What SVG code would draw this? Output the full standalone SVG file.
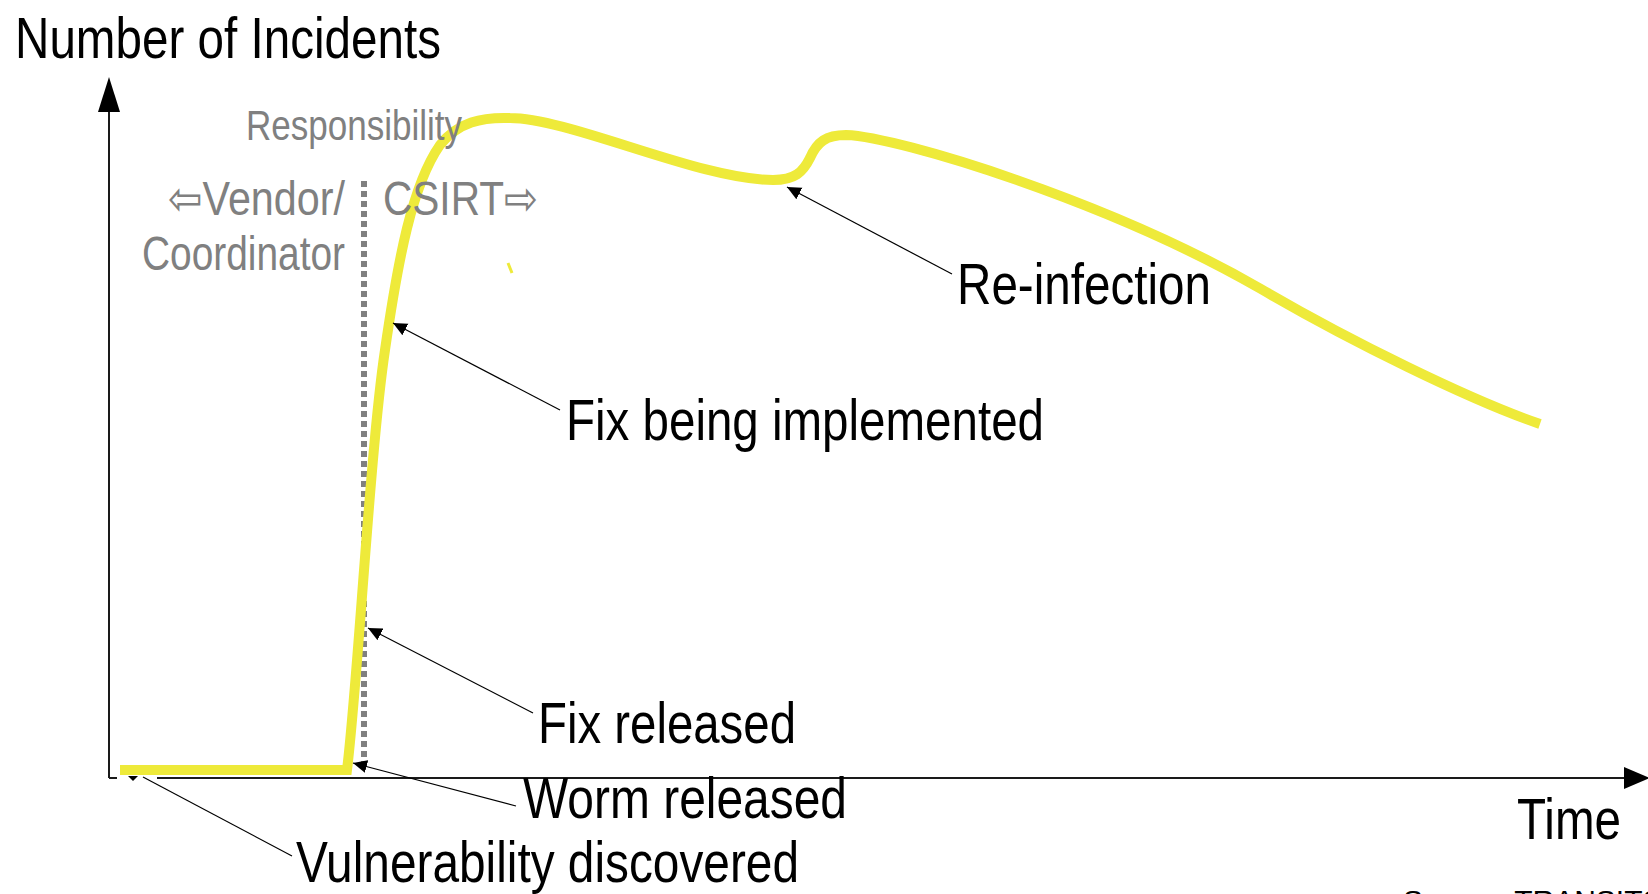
<svg xmlns="http://www.w3.org/2000/svg" width="1648" height="894" viewBox="0 0 1648 894">
<style>
  .lbl { font-family: "Liberation Sans Narrow", "Liberation Sans", Arial, sans-serif; fill: #000; font-size: 58px; }
  .gray { font-family: "Liberation Sans Narrow", "Liberation Sans", "DejaVu Sans", Arial, sans-serif; fill: #808080; }
  .axis { stroke: #1a1a1a; stroke-width: 2; fill: none; }
  .ann { stroke: #000; stroke-width: 1.2; fill: none; marker-end: url(#ah); }
  .curve { stroke: #EEEA3A; stroke-width: 10; fill: none; stroke-linejoin: miter; stroke-linecap: butt; }
</style>
<defs>
  <marker id="ah" markerUnits="userSpaceOnUse" markerWidth="15" markerHeight="14" refX="14" refY="6.5" orient="auto">
    <path d="M0,0 L14,6.5 L0,13 z" fill="#000"/>
  </marker>
</defs>
<rect width="1648" height="894" fill="#fff"/>

<g id="axes">
  <line class="axis" x1="109" y1="778" x2="109" y2="108"/>
  <polygon points="109,77 98,112 120,112" fill="#000"/>
  <line class="axis" x1="109" y1="778" x2="1626" y2="778"/>
  <polygon points="1650,778 1624,767 1624,789" fill="#000"/>
  <rect x="117" y="776" width="40" height="5" fill="#fff"/>
</g>

<g id="divider">
  <line x1="364" y1="181" x2="364" y2="770" stroke="#808080" stroke-width="6" stroke-dasharray="6 4"/>
</g>

<g id="incident-curve">
  <path class="curve" d="M120,770 L347,770 C358,680 370,450 385,350 C398,260 412,185 440,145 C458,122 482,117 510,118 C570,118 700,180 773,180 C795,180 803,172 810,158 C817,142 826,135 846,135 C900,137 1110,202 1261,289 C1350,341 1470,400 1540,424"/>
  <line x1="508" y1="263" x2="512" y2="273" stroke="#EEEA3A" stroke-width="3"/>
</g>

<g id="connectors">
  <line class="ann" x1="952" y1="274" x2="787" y2="187"/>
  <line class="ann" x1="560" y1="410" x2="393" y2="323"/>
  <line class="ann" x1="533" y1="713" x2="368" y2="628"/>
  <line class="ann" x1="516" y1="806" x2="353" y2="763"/>
  <line x1="292" y1="856" x2="143" y2="777" stroke="#000" stroke-width="1.2"/>
  <polygon points="128,776 138,776 133,781" fill="#000"/>
</g>

<g id="title-y">
  <text class="lbl" x="15" y="58" textLength="426" lengthAdjust="spacingAndGlyphs">Number of Incidents</text>
</g>
<g id="title-x">
  <text class="lbl" x="1517" y="839" textLength="104" lengthAdjust="spacingAndGlyphs">Time</text>
</g>

<g id="responsibility">
  <text class="gray" x="246" y="140" font-size="42" textLength="216" lengthAdjust="spacingAndGlyphs">Responsibility</text>
  <text class="gray" x="168" y="215" font-size="48" textLength="177" lengthAdjust="spacingAndGlyphs">⇦Vendor/</text>
  <text class="gray" x="142" y="270" font-size="48" textLength="203" lengthAdjust="spacingAndGlyphs">Coordinator</text>
  <text class="gray" x="383" y="215" font-size="48" textLength="155" lengthAdjust="spacingAndGlyphs">CSIRT⇨</text>
</g>

<g id="label-reinfection">
  <text class="lbl" x="957" y="304" textLength="254" lengthAdjust="spacingAndGlyphs">Re-infection</text>
</g>
<g id="label-fix-implemented">
  <text class="lbl" x="566" y="440" textLength="478" lengthAdjust="spacingAndGlyphs">Fix being implemented</text>
</g>
<g id="label-fix-released">
  <text class="lbl" x="538" y="743" textLength="258" lengthAdjust="spacingAndGlyphs">Fix released</text>
</g>
<g id="label-worm-released">
  <text class="lbl" x="523" y="818" textLength="324" lengthAdjust="spacingAndGlyphs">Worm released</text>
</g>
<g id="label-vulnerability">
  <text class="lbl" x="296" y="882" textLength="503" lengthAdjust="spacingAndGlyphs">Vulnerability discovered</text>
</g>
<g id="source">
  <text x="1403" y="911" font-family="Liberation Sans, sans-serif" font-size="30" fill="#000">Source: TRANSITS</text>
</g>
</svg>
